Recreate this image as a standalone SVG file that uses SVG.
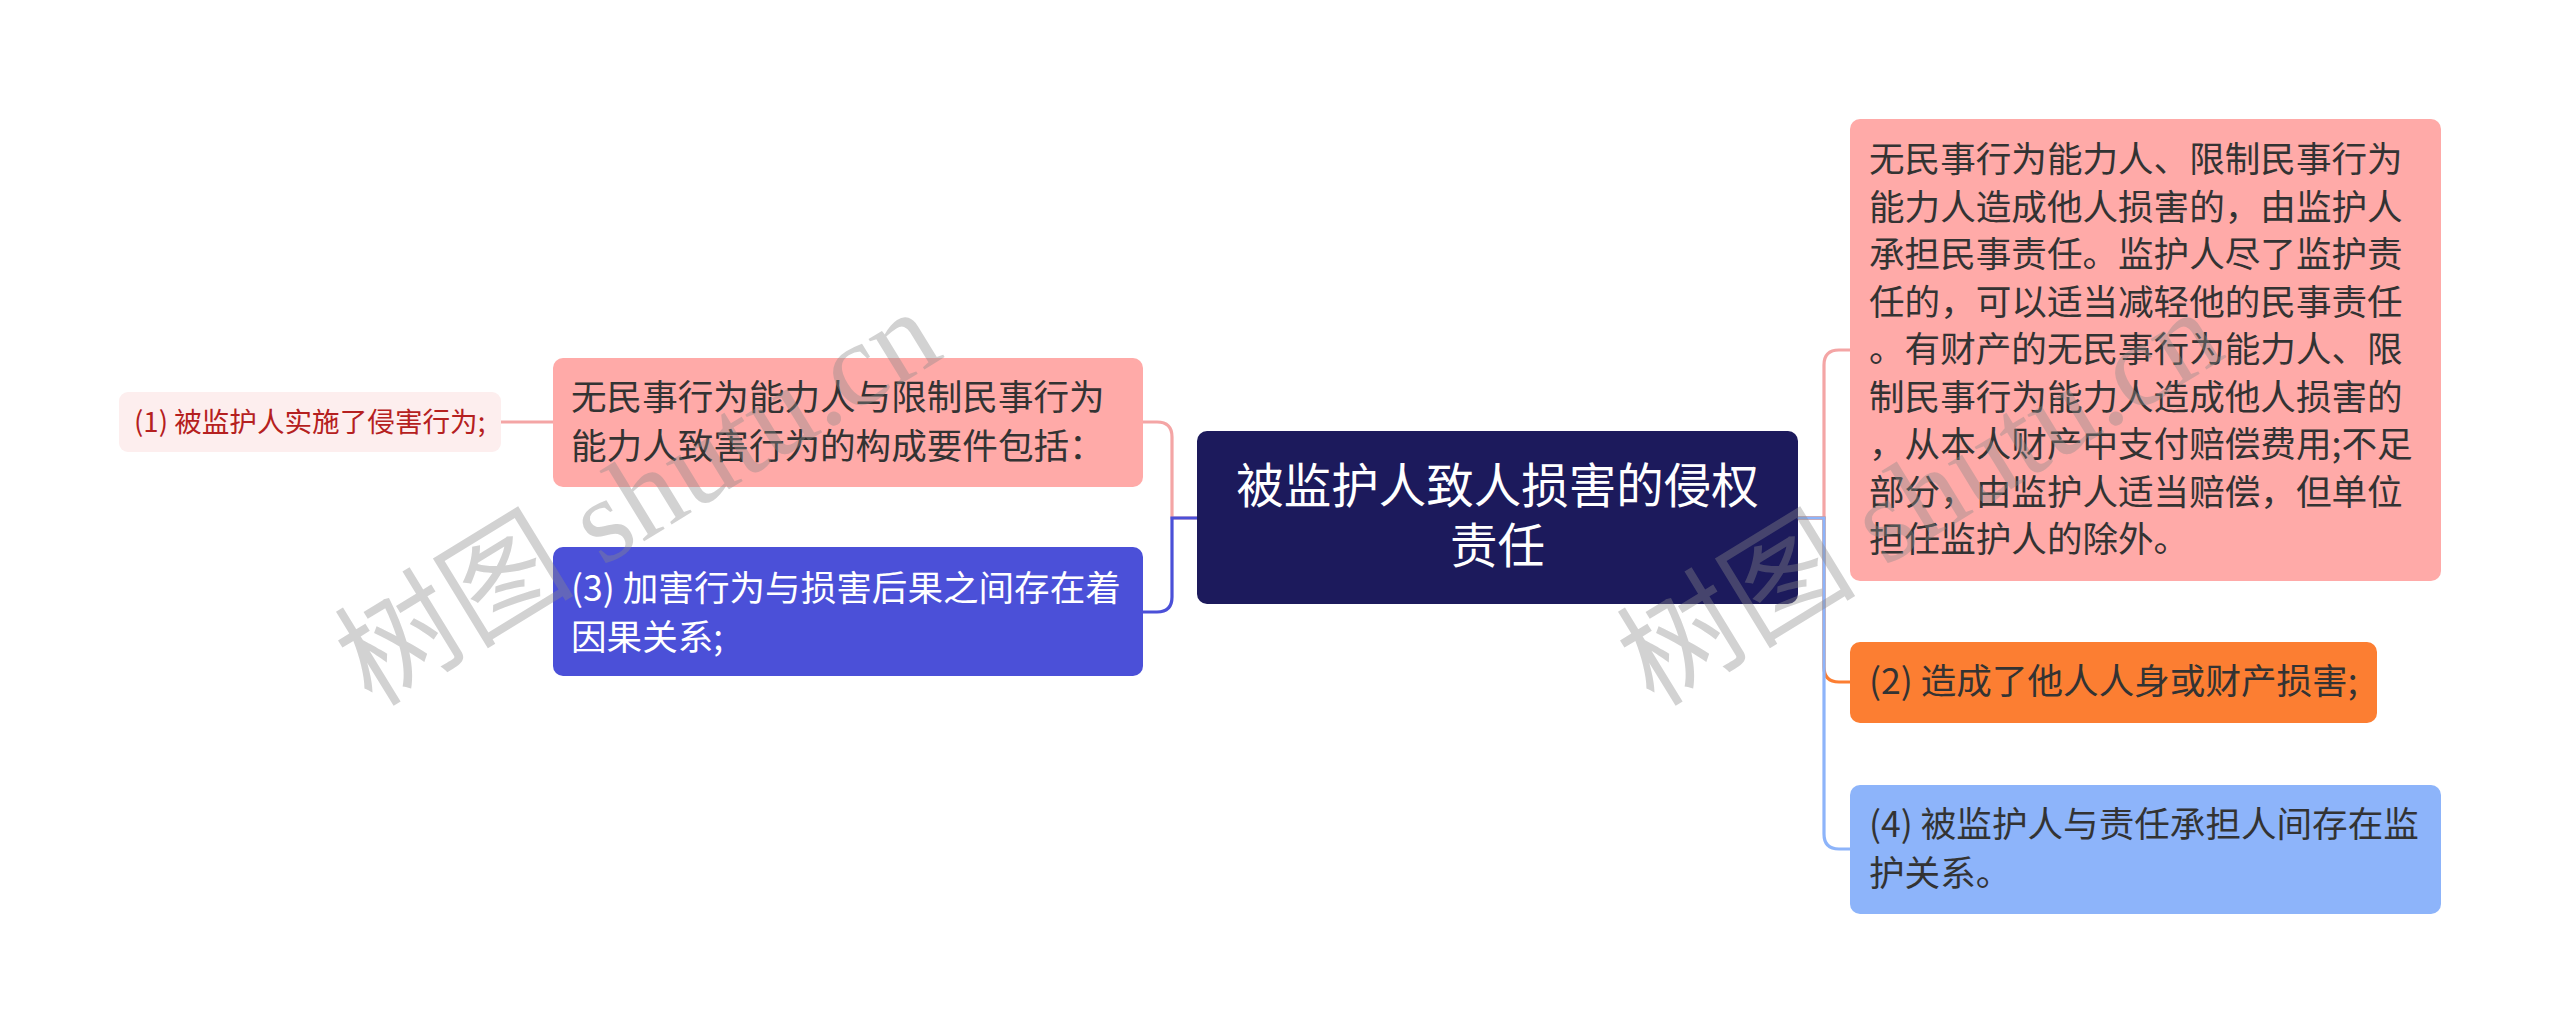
<svg xmlns="http://www.w3.org/2000/svg" width="2560" height="1035" viewBox="0 0 2560 1035">
<style>
.t{font-family:"Noto Sans CJK SC","Noto Sans",sans-serif;}
.dark{fill:#333333;}
.white{fill:#ffffff;}
.conn{fill:none;stroke-width:3.2;stroke-linecap:round;}
.wm{font-family:"Liberation Serif","Noto Sans CJK SC",serif;fill:#8a8a8a;opacity:0.38;font-size:120px;}
</style>
<rect x="0" y="0" width="2560" height="1035" fill="#ffffff"/>
<g id="connectors">
<path class="conn" stroke="#f4a5a5" d="M553,422 L501,422"/>
<path class="conn" stroke="#f4a5a5" d="M1197,518 L1172,518 L1172,437 Q1172,422 1157,422 L1143,422"/>
<path class="conn" stroke="#4b50d8" d="M1197,518 L1172,518 L1172,597 Q1172,612 1157,612 L1143,612"/>
<path class="conn" stroke="#f4a5a5" d="M1798,518 L1824,518 L1824,365 Q1824,350 1839,350 L1850,350"/>
<path class="conn" stroke="#fc7e32" d="M1798,518 L1824,518 L1824,667 Q1824,682 1839,682 L1850,682"/>
<path class="conn" stroke="#8db4fa" d="M1798,518 L1824,518 L1824,834 Q1824,849 1839,849 L1850,849"/>
</g>
<g id="center">
<rect x="1197" y="431" width="601" height="173" rx="10" fill="#1c1a5c"/>
<text class="t white" font-size="47.5" text-anchor="middle" x="1497.5" y="503">被监护人致人损害的侵权</text>
<text class="t white" font-size="47.5" text-anchor="middle" x="1497.5" y="563">责任</text>
</g>
<g id="node-left-a">
<rect x="553" y="358" width="590" height="129" rx="10" fill="#ffaaa8"/>
<text class="t dark" font-size="35.6" x="571" y="410">无民事行为能力人与限制民事行为</text>
<text class="t dark" font-size="35.6" x="571" y="459">能力人致害行为的构成要件包括：</text>
</g>
<g id="node-1">
<rect x="119" y="392" width="382" height="60" rx="9" fill="#fdeeee"/>
<text class="t" font-size="27.6" fill="#b52020" x="134" y="432">(1) 被监护人实施了侵害行为;</text>
</g>
<g id="node-3">
<rect x="553" y="547" width="590" height="129" rx="10" fill="#4b50d8"/>
<text class="t white" font-size="35.6" x="571" y="601">(3) 加害行为与损害后果之间存在着</text>
<text class="t white" font-size="35.6" x="571" y="650">因果关系;</text>
</g>
<g id="node-right-main">
<rect x="1850" y="119" width="591" height="462" rx="10" fill="#ffaaa8"/>
<text class="t dark" font-size="35.6">
<tspan x="1869" y="172">无民事行为能力人、限制民事行为</tspan>
<tspan x="1869" y="219.5">能力人造成他人损害的，由监护人</tspan>
<tspan x="1869" y="267">承担民事责任。监护人尽了监护责</tspan>
<tspan x="1869" y="314.5">任的，可以适当减轻他的民事责任</tspan>
<tspan x="1869" y="362">。有财产的无民事行为能力人、限</tspan>
<tspan x="1869" y="409.5">制民事行为能力人造成他人损害的</tspan>
<tspan x="1869" y="457">，从本人财产中支付赔偿费用;不足</tspan>
<tspan x="1869" y="504.5">部分，由监护人适当赔偿，但单位</tspan>
<tspan x="1869" y="552">担任监护人的除外。</tspan>
</text>
</g>
<g id="node-2">
<rect x="1850" y="642" width="527" height="81" rx="10" fill="#fc7e32"/>
<text class="t dark" font-size="35.6" x="1869" y="694">(2) 造成了他人人身或财产损害;</text>
</g>
<g id="node-4">
<rect x="1850" y="785" width="591" height="129" rx="10" fill="#8db4fa"/>
<text class="t dark" font-size="35.6" x="1869" y="837">(4) 被监护人与责任承担人间存在监</text>
<text class="t dark" font-size="35.6" x="1869" y="886">护关系。</text>
</g>
<g id="watermarks">
<text class="wm" transform="translate(372,708) rotate(-31.5)">树图 shutu.cn</text>
<text class="wm" transform="translate(1654,708) rotate(-31.5)">树图 shutu.cn</text>
</g>
</svg>
